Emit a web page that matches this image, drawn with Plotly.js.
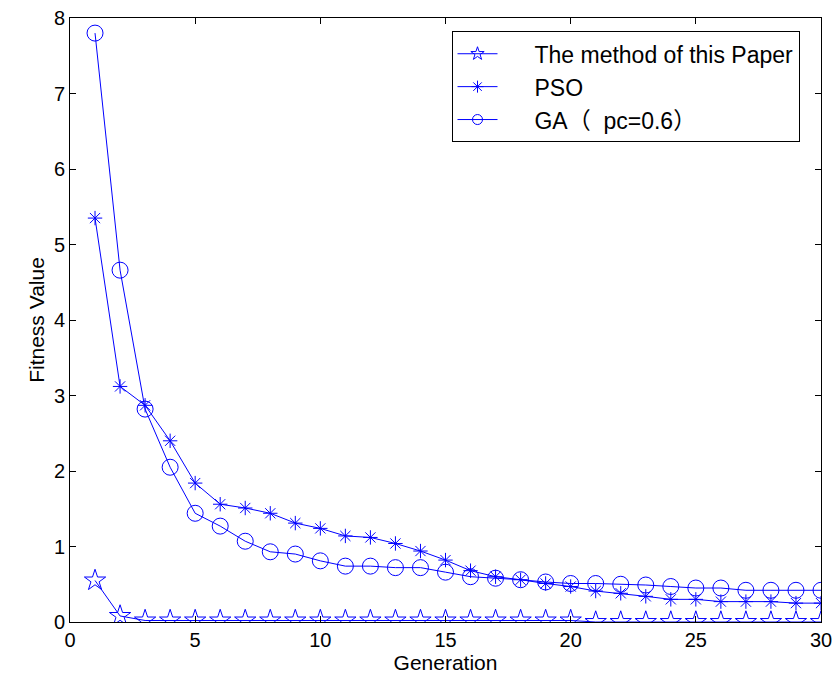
<!DOCTYPE html>
<html><head><meta charset="utf-8">
<script src="https://cdn.plot.ly/plotly-3.0.1.min.js"></script>
<style>body{margin:0;background:#fff}#c{width:834px;height:682px}</style>
</head><body><div id="c"></div>
<script>
const generations = [1,2,3,4,5,6,7,8,9,10,11,12,13,14,15,16,17,18,19,20,21,22,23,24,25,26,27,28,29,30];
const paperMethod = [0.55,0.08,0.02,0.02,0.02,0.02,0.02,0.02,0.02,0.02,0.02,0.02,0.02,0.02,0.02,0.02,0.02,0.02,0.02,0.02,0.0,0.0,0.0,0.0,0.0,0.0,0.0,0.0,0.0,0.0];
const pso = [5.35,3.12,2.87,2.40,1.84,1.56,1.51,1.44,1.31,1.24,1.14,1.12,1.04,0.94,0.82,0.68,0.60,0.56,0.51,0.47,0.41,0.38,0.34,0.30,0.30,0.27,0.27,0.27,0.25,0.25];
const ga = [7.80,4.66,2.82,2.05,1.44,1.27,1.07,0.93,0.90,0.81,0.74,0.74,0.72,0.72,0.66,0.60,0.58,0.56,0.53,0.51,0.51,0.50,0.49,0.47,0.45,0.45,0.42,0.42,0.42,0.42];
const names = ['The method of this Paper','PSO','GA（  pc=0.6）'];
const xTicks = [0,5,10,15,20,25,30];
const yTicks = [0,1,2,3,4,5,6,7,8];

const blue = 'rgb(0,0,255)';
const symbols = ['star-open','asterisk-open','circle-open'];
const sizes = [16,12,16];
const series = [paperMethod, pso, ga];
const pad = '\u00a0\u00a0\u00a0\u00a0\u00a0';
const data = [];
series.forEach((y,i)=>{
  data.push({x: generations, y: y, name: names[i], type:'scatter', mode:'lines+markers', showlegend:false,
    line:{color:blue, width:1},
    marker:{symbol:symbols[i], size:sizes[i], color:blue, line:{color:blue, width:1}}});
});
series.forEach((y,i)=>{
  data.push({x:[null], y:[null], name: pad + names[i], type:'scatter', mode:'lines+markers', showlegend:true,
    line:{color:blue, width:1},
    marker:{symbol:symbols[i], size:10, color:blue, line:{color:blue, width:1}}});
});
const fam = 'Liberation Sans, Arial, Noto Sans CJK SC, sans-serif';
const tickFont = {family:fam, size:20, color:'#000'};
const titleFont = {family:fam, size:21, color:'#000'};
const axisCommon = {showgrid:false, zeroline:false, showline:true, linecolor:'#000', linewidth:1,
  mirror:'ticks', ticks:'inside', ticklen:6, tickcolor:'#000', tickfont:tickFont};
const layout = {
  width:834, height:682,
  margin:{l:70, r:13, t:18, b:60},
  paper_bgcolor:'#fff', plot_bgcolor:'#fff',
  font: tickFont,
  showlegend:true,
  xaxis: Object.assign({}, axisCommon, {range:[0,30], tickvals:xTicks, ticktext:xTicks.map(String),
    title:{text:'Generation', font:titleFont, standoff:0}}),
  yaxis: Object.assign({}, axisCommon, {range:[0,8], tickvals:yTicks, ticktext:yTicks.map(String),
    title:{text:'Fitness Value', font:titleFont, standoff:3}}),
  legend:{x:0.508, y:0.978, xanchor:'left', yanchor:'top', bgcolor:'#fff', bordercolor:'#000', borderwidth:1,
    font:{family:fam, size:23, color:'#000'}, tracegroupgap:0, itemwidth:40}
};
Plotly.newPlot('c', data, layout, {displayModeBar:false, staticPlot:true});
</script></body></html>
